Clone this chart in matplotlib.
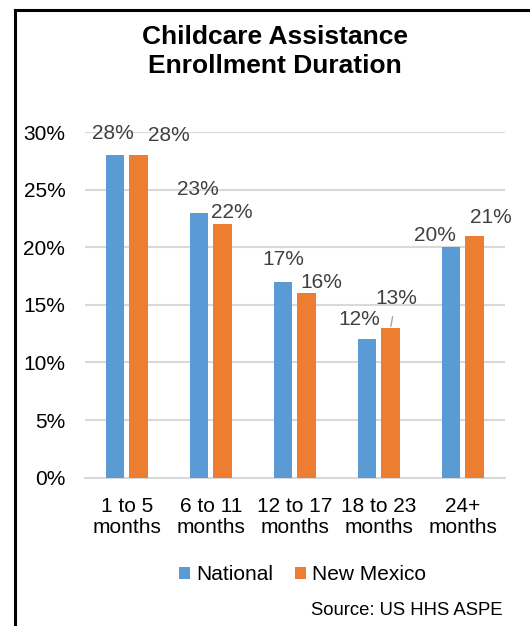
import matplotlib
matplotlib.use("Agg")
import matplotlib.pyplot as plt
from matplotlib.lines import Line2D
import numpy as np

plt.rcParams['font.family'] = ['Liberation Sans', 'DejaVu Sans']

# dados
categorias = ["1 to 5\nmonths", "6 to 11\nmonths", "12 to 17\nmonths", "18 to 23\nmonths", "24+\nmonths"]
nacional = [0.28, 0.23, 0.17, 0.12, 0.20]
novo_mexico = [0.28, 0.22, 0.16, 0.13, 0.21]
series = ["National", "New Mexico"]

azul = "#5b9bd5"
laranja = "#ed7d31"
cinza_txt = "#404040"

fig = plt.figure(figsize=(5.3, 6.26), dpi=100)
ax = fig.add_axes([0.160, 0.237, 0.793, 0.552])

x = np.arange(len(categorias))
larg = 0.22
b1 = ax.bar(x - 0.143, nacional, larg, color=azul, label=series[0], zorder=3)
b2 = ax.bar(x + 0.137, novo_mexico, larg, color=laranja, label=series[1], zorder=3)

ax.set_xlim(-0.5, len(categorias) - 0.5)
ax.set_ylim(0, 0.30)
ax.set_yticks(np.arange(0, 0.31, 0.05))
ax.set_yticklabels([f"{int(round(v * 100))}%" for v in np.arange(0, 0.31, 0.05)])
ax.set_xticks(x)
ax.set_xticklabels(categorias, linespacing=1.12)
ax.tick_params(axis='y', length=0, pad=14, labelsize=15, labelcolor="#000000")
ax.tick_params(axis='x', length=0, pad=14, labelsize=15, labelcolor="#000000")
ax.grid(axis='y', color="#d9d9d9", linewidth=1.5, zorder=0)
for lado in ['top', 'right', 'left']:
    ax.spines[lado].set_visible(False)
ax.spines['bottom'].set_color("#d9d9d9")
ax.spines['bottom'].set_linewidth(1.5)

# rótulos de dados (deslocamentos em pixels, como no original)
def rotular(barras, valores, desloc):
    for i, (b, v) in enumerate(zip(barras, valores)):
        dx, dy, linha = desloc[i]
        cx = b.get_x() + b.get_width() / 2
        props = dict(arrowstyle='-', color="#a6a6a6", lw=1, shrinkA=4, shrinkB=1) if linha else None
        ax.annotate(f"{int(round(v * 100))}%", xy=(cx, v), xytext=(dx, dy),
                    textcoords='offset pixels', ha='center', va='center',
                    fontsize=15, color=cinza_txt, arrowprops=props)

rotular(b1, nacional, [(-1.5, 22, False), (-1, 23, False), (0.5, 22, False),
                       (-8, 19.5, False), (-16.5, 12, False)])
rotular(b2, novo_mexico, [(30.5, 20, False), (9.5, 12, False), (15, 11, False),
                          (5.5, 29, True), (16.5, 18, False)])

fig.text(0.519, 0.918, "Childcare Assistance\nEnrollment Duration", ha='center', va='center',
         fontsize=19, fontweight='bold', linespacing=1.25)

leg = ax.legend(loc='center', bbox_to_anchor=(0.571, 0.082), bbox_transform=fig.transFigure,
                ncol=2, frameon=False, fontsize=15, handlelength=0.55, handleheight=0.55,
                handletextpad=0.3, columnspacing=1.0)
for t in leg.get_texts():
    t.set_color("#000000")

fig.text(0.948, 0.024, "Source: US HHS ASPE", ha='right', va='center', fontsize=13.3)

# moldura
fig.add_artist(Line2D([15 / 530, 15 / 530], [0, 1 - 10 / 626], color='black', lw=2.2, transform=fig.transFigure))
fig.add_artist(Line2D([15 / 530, 1], [1 - 10 / 626, 1 - 10 / 626], color='black', lw=2.2, transform=fig.transFigure))

fig.savefig("out.png", dpi=100)
